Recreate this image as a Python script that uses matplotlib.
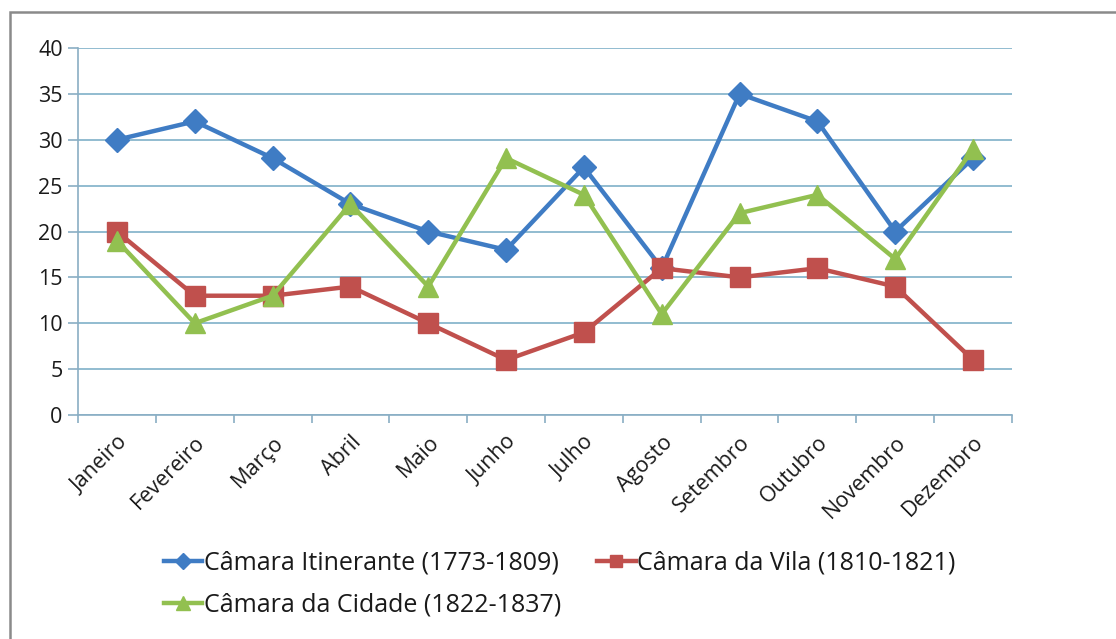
import matplotlib
matplotlib.use("Agg")
import matplotlib.pyplot as plt
from matplotlib.patches import Rectangle
from matplotlib.ticker import FixedLocator

months = ["Janeiro", "Fevereiro", "Março", "Abril", "Maio", "Junho",
          "Julho", "Agosto", "Setembro", "Outubro", "Novembro", "Dezembro"]
itinerante = [30, 32, 28, 23, 20, 18, 27, 16, 35, 32, 20, 28]
vila = [20, 13, 13, 14, 10, 6, 9, 16, 15, 16, 14, 6]
cidade = [19, 10, 13, 23, 14, 28, 24, 11, 22, 24, 17, 29]
labels = ["Câmara Itinerante (1773-1809)", "Câmara da Vila (1810-1821)",
          "Câmara da Cidade (1822-1837)"]
yticks = [0, 5, 10, 15, 20, 25, 30, 35, 40]

plt.rcParams['font.family'] = ['Open Sans', 'DejaVu Sans']

fig = plt.figure(figsize=(11.16, 6.39), dpi=100)
ax = fig.add_axes([78/1116, 1-415/639, (1012-78)/1116, (415-48)/639])

x = list(range(len(months)))
l1, = ax.plot(x, itinerante, color="#3f7cc4", lw=3.2, marker="D", ms=12.5, zorder=3)
l2, = ax.plot(x, vila, color="#c0504d", lw=3.2, marker="s", ms=14, zorder=4)
l3, = ax.plot(x, cidade, color="#92c050", lw=3.2, marker="^", ms=15, zorder=5)

ax.set_xlim(-0.5, len(months) - 0.5)
ax.set_ylim(0, 40)
ax.set_yticks(yticks)
ax.set_xticks(x)
ax.set_xticklabels(months, rotation=45, ha="right", rotation_mode="anchor", fontsize=15.5)
ax.tick_params(axis="x", which="major", length=0, pad=12)
ax.xaxis.set_minor_locator(FixedLocator([i - 0.5 for i in range(len(months) + 1)]))
ax.tick_params(axis="x", which="minor", length=6, color="#8aaec4", width=1.2)
ax.tick_params(axis="y", length=7, color="#8aaec4", width=1.2, labelsize=15.5, pad=4)
for lab in ax.get_yticklabels() + ax.get_xticklabels():
    lab.set_color("#1a1a1a")
ax.yaxis.grid(True, color="#7fb0c8", lw=1.2)
ax.set_axisbelow(True)
for s in ["top", "right"]:
    ax.spines[s].set_visible(False)
for s in ["left", "bottom"]:
    ax.spines[s].set_color("#8aaec4")
    ax.spines[s].set_linewidth(1.2)

# row-major order: row1 = Itinerante, Vila; row2 = Cidade
leg = fig.legend([l1, l3, l2], [labels[0], labels[2], labels[1]], ncol=2,
                 frameon=False, fontsize=18,
                 loc="upper left", bbox_to_anchor=(141/1116, 1-528/639),
                 handlelength=1.55, handletextpad=0.05, columnspacing=1.45,
                 labelspacing=0.7, markerscale=0.65)
for t in leg.get_texts():
    t.set_color("#1a1a1a")

fig.patches.append(Rectangle((10/1116, -0.1), 1.2, 1 - 12/639 + 0.1,
                             transform=fig.transFigure, fill=False,
                             edgecolor="#8a8a8a", lw=1.8, zorder=0))

fig.savefig("out.png", dpi=100)
